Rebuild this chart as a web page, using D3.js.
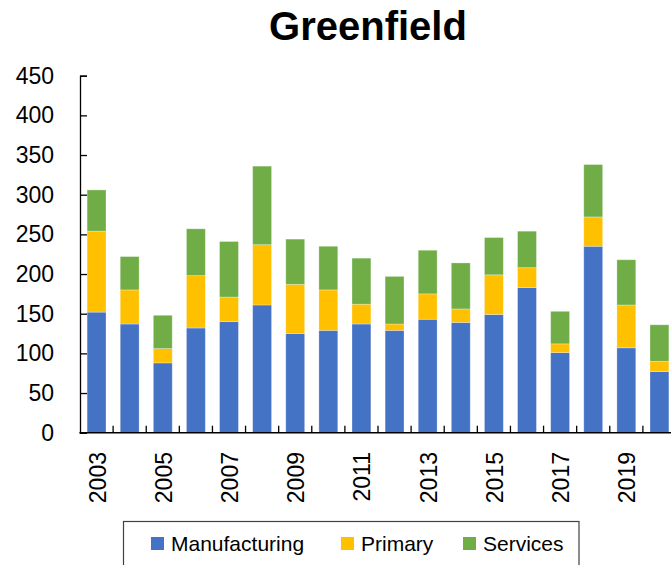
<!DOCTYPE html>
<html>
<head>
<meta charset="utf-8">
<script src="https://d3js.org/d3.v7.min.js"></script>
<style>
  body { margin: 0; background: #fff; }
  text { font-family: "Liberation Sans", Arial, sans-serif; fill: #000; }
</style>
</head>
<body>
<div id="chart"></div>
<script>
// chart data
var years = [2003, 2004, 2005, 2006, 2007, 2008, 2009, 2010, 2011, 2012,
             2013, 2014, 2015, 2016, 2017, 2018, 2019, 2020];
var manufacturing = [152, 137, 88, 132, 140, 161, 125, 129, 137, 129, 143, 139, 149, 183, 101, 235, 107, 77];
var primary = [102, 43, 18, 66, 31, 76, 62, 51, 25, 8, 32, 17, 50, 25, 11, 37, 54, 13];
var services = [52, 42, 42, 59, 70, 99, 57, 55, 58, 60, 55, 58, 47, 46, 41, 66, 57, 46];
var seriesNames = ["Manufacturing", "Primary", "Services"];
var seriesColors = ["#4472C4", "#FFC000", "#70AD47"];
var yTicks = [0, 50, 100, 150, 200, 250, 300, 350, 400, 450];
var xLabelYears = [2003, 2005, 2007, 2009, 2011, 2013, 2015, 2017, 2019];

var svgWidth = 671;
var svgHeight = 565;

var svg = d3.select("#chart")
  .append("svg")
  .attr("width", svgWidth)
  .attr("height", svgHeight);

// build table for the stack
var table = years.map(function(y, i) {
  return { year: y, Manufacturing: manufacturing[i], Primary: primary[i], Services: services[i] };
});
var stacked = d3.stack().keys(seriesNames)(table);

// scales
var xScale = d3.scaleBand()
  .domain(years)
  .range([80, 676])
  .paddingInner(0.43)
  .paddingOuter(0.215);

var xTickScale = d3.scaleBand()
  .domain(years)
  .range([80, 676]);

var yScale = d3.scaleLinear()
  .domain([0, 450])
  .range([432.7, 75.7]);

// title
svg.append("text")
  .attr("x", 368)
  .attr("y", 40)
  .attr("text-anchor", "middle")
  .style("font-size", "40px")
  .style("font-weight", "bold")
  .text("Greenfield");

// bars
svg.selectAll("g.series")
  .data(stacked)
  .enter()
  .append("g")
  .attr("class", "series")
  .attr("fill", function(d, i) { return seriesColors[i]; })
  .selectAll("rect")
  .data(function(d) { return d; })
  .enter()
  .append("rect")
  .attr("x", function(d) { return xScale(d.data.year); })
  .attr("y", function(d) { return yScale(d[1]); })
  .attr("width", xScale.bandwidth())
  .attr("height", function(d) { return yScale(d[0]) - yScale(d[1]); })
  .attr("stroke", "#fff")
  .attr("stroke-opacity", 0.35)
  .attr("stroke-width", 0.8);

// y axis, ticks pointing inward
var leftAxis = d3.axisRight(yScale)
  .tickValues(yTicks)
  .tickSize(7)
  .tickFormat("");

var yAxisG = svg.append("g")
  .attr("transform", "translate(80,0)")
  .call(leftAxis);
yAxisG.select(".domain").attr("stroke", "#000").attr("stroke-width", 1.3);
yAxisG.selectAll(".tick line").attr("stroke", "#000").attr("stroke-width", 1.3);

svg.selectAll("text.ylab")
  .data(yTicks)
  .enter()
  .append("text")
  .attr("class", "ylab")
  .attr("x", 54)
  .attr("y", function(d) { return yScale(d) + 8; })
  .attr("text-anchor", "end")
  .style("font-size", "23px")
  .text(function(d) { return d; });

// x axis line and inward ticks between bars
svg.append("line")
  .attr("x1", 79.4)
  .attr("x2", svgWidth)
  .attr("y1", yScale(0))
  .attr("y2", yScale(0))
  .attr("stroke", "#000")
  .attr("stroke-width", 1.5);

svg.selectAll("line.xtick")
  .data(years.slice(1))
  .enter()
  .append("line")
  .attr("class", "xtick")
  .attr("x1", function(d) { return xTickScale(d); })
  .attr("x2", function(d) { return xTickScale(d); })
  .attr("y1", yScale(0))
  .attr("y2", yScale(0) - 7)
  .attr("stroke", "#000")
  .attr("stroke-width", 1.3);

// rotated year labels
svg.selectAll("text.xlab")
  .data(xLabelYears)
  .enter()
  .append("text")
  .attr("class", "xlab")
  .attr("text-anchor", "end")
  .attr("transform", function(d) {
    var cx = xTickScale(d) + xTickScale.bandwidth() / 2 + 9;
    return "translate(" + cx + ",452) rotate(-90)";
  })
  .style("font-size", "23px")
  .text(function(d) { return d; });

// legend
svg.append("rect")
  .attr("x", 123.5)
  .attr("y", 521.5)
  .attr("width", 455.5)
  .attr("height", 60)
  .attr("fill", "none")
  .attr("stroke", "#404040")
  .attr("stroke-width", 1.2);

var legendX = [151, 341, 463];
var legend = svg.selectAll("g.legend")
  .data(seriesNames)
  .enter()
  .append("g")
  .attr("class", "legend")
  .attr("transform", function(d, i) { return "translate(" + legendX[i] + ",537)"; });

legend.append("rect")
  .attr("width", 13)
  .attr("height", 13)
  .attr("fill", function(d, i) { return seriesColors[i]; });

legend.append("text")
  .attr("x", 20)
  .attr("y", 14)
  .style("font-size", "21px")
  .text(function(d) { return d; });
</script>
</body>
</html>
